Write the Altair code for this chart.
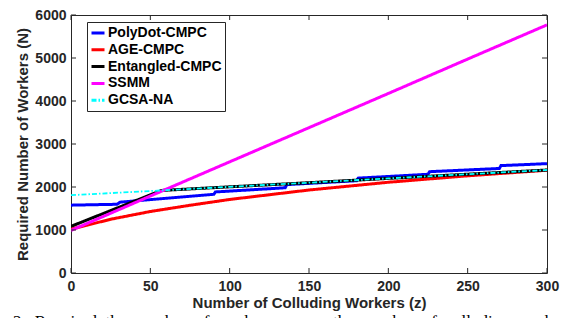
import altair as alt
import pandas as pd

# ---------------- data ----------------
series_names = ["PolyDot-CMPC", "AGE-CMPC", "Entangled-CMPC", "SSMM", "GCSA-NA"]
series_colors = ["#0000FF", "#FF0000", "#000000", "#FF00FF", "#00FFFF"]
series_dash = [[1, 0], [1, 0], [1, 0], [1, 0], [5, 2, 1.5, 2]]
series_width = [3, 3, 3, 3, 1.8]

polydot_z = [0, 29, 31, 90, 91, 135, 136, 180, 181, 225, 226, 270, 271, 300]
polydot_n = [1578, 1598, 1648, 1830, 1885, 1982, 2056, 2146, 2206, 2296, 2356, 2431, 2498, 2543]

age_z = [0, 10, 25, 50, 75, 100, 150, 200, 250, 300]
age_n = [1020, 1110, 1250, 1430, 1575, 1710, 1930, 2110, 2260, 2390]

entangled_z = [0, 57, 100, 150, 200, 250, 300]
entangled_n = [1085, 1920, 2004, 2100, 2200, 2298, 2395]

ssmm_z = [0, 50, 100, 150, 200, 250, 300]
ssmm_n = [990, 1790, 2585, 3380, 4175, 4975, 5770]

gcsa_z = [0, 57, 100, 150, 200, 250, 300]
gcsa_n = [1810, 1920, 2004, 2100, 2200, 2298, 2395]

x_ticks = [0, 50, 100, 150, 200, 250, 300]
y_ticks = [0, 1000, 2000, 3000, 4000, 5000, 6000]

caption_text = ("2:\u00a0\u00a0Required\u00a0 the\u00a0 number\u00a0 of\u00a0 workers\u00a0 versus\u00a0 "
                "the\u00a0 number\u00a0 of\u00a0 colluding\u00a0 workers")

# ---------------- table ----------------
rows = []
for name, zs, ns in zip(series_names,
                        [polydot_z, age_z, entangled_z, ssmm_z, gcsa_z],
                        [polydot_n, age_n, entangled_n, ssmm_n, gcsa_n]):
    for i, (z, n) in enumerate(zip(zs, ns)):
        rows.append({"series": name, "z": z, "n": n, "idx": i})
df = pd.DataFrame(rows)
xt_df = pd.DataFrame({"t": x_ticks})
yt_df = pd.DataFrame({"t": y_ticks})

W, H = 476, 258
TICK = 5
FONT = "Liberation Sans"
AX = "#262626"

xscale = alt.Scale(domain=[0, 300], nice=False, zero=False)
yscale = alt.Scale(domain=[0, 6000], nice=False, zero=False)

legend = alt.Legend(
    orient="none", legendX=16, legendY=7, title=None,
    labelFont=FONT, labelFontWeight="bold", labelFontSize=14, labelColor="black",
    symbolType="stroke", symbolSize=169, symbolStrokeWidth=3,
    strokeColor=AX, fillColor="white", padding=3, rowPadding=1.8,
    labelOffset=2, symbolOffset=0, labelLimit=300,
)
color = alt.Color("series:N", scale=alt.Scale(domain=series_names, range=series_colors),
                  legend=legend, title=None)
dash = alt.StrokeDash("series:N", scale=alt.Scale(domain=series_names, range=series_dash),
                      legend=legend, title=None)

main_x = alt.Axis(values=x_ticks, orient="bottom", ticks=False, tickSize=0, domain=False,
                  grid=False, labelFlush=False, labelFont=FONT, labelFontWeight="bold",
                  labelFontSize=14, labelColor=AX, labelPadding=6, format="d",
                  title="Number of Colluding Workers (z)", titleFont=FONT,
                  titleFontWeight="bold", titleFontSize=15, titleColor=AX, titlePadding=2)
main_y = alt.Axis(values=y_ticks, orient="left", ticks=False, tickSize=0, domain=False,
                  grid=False, labelFlush=False, labelFont=FONT, labelFontWeight="bold",
                  labelFontSize=14, labelColor=AX, labelPadding=5, format="d",
                  title="Required Number of Workers (N)", titleFont=FONT,
                  titleFontWeight="bold", titleFontSize=15, titleColor=AX, titlePadding=4)

layers = []
for k, name in enumerate(series_names):
    layers.append(
        alt.Chart(df).transform_filter(alt.datum.series == name)
        .mark_line(strokeWidth=series_width[k], clip=True)
        .encode(
            x=alt.X("z:Q", scale=xscale, axis=main_x if k == 0 else None),
            y=alt.Y("n:Q", scale=yscale, axis=main_y if k == 0 else None),
            color=color,
            strokeDash=dash,
            order="idx:Q",
        )
    )

# inward tick marks on all four sides (MATLAB style box)
tick_layers = [
    alt.Chart(xt_df).mark_rule(color=AX, strokeWidth=1).encode(
        x=alt.X("t:Q", scale=xscale, axis=None), y=alt.value(H), y2=alt.value(H - TICK)),
    alt.Chart(xt_df).mark_rule(color=AX, strokeWidth=1).encode(
        x=alt.X("t:Q", scale=xscale, axis=None), y=alt.value(0), y2=alt.value(TICK)),
    alt.Chart(yt_df).mark_rule(color=AX, strokeWidth=1).encode(
        y=alt.Y("t:Q", scale=yscale, axis=None), x=alt.value(0), x2=alt.value(TICK)),
    alt.Chart(yt_df).mark_rule(color=AX, strokeWidth=1).encode(
        y=alt.Y("t:Q", scale=yscale, axis=None), x=alt.value(W), x2=alt.value(W - TICK)),
]

caption = alt.Chart(pd.DataFrame({"caption": [caption_text]})).mark_text(
    align="left", baseline="alphabetic", font="Liberation Serif", fontSize=17,
    color="black", clip=False,
).encode(x=alt.value(-58), y=alt.value(312), text="caption:N")

chart = alt.layer(*layers, *tick_layers, caption).resolve_axis(
    x="independent", y="independent"
).properties(
    width=W, height=H,
    autosize=alt.AutoSizeParams(type="none"),
    padding={"left": 63, "top": 7, "right": 14, "bottom": 45},
).configure_view(stroke=AX, strokeWidth=1)

chart.save("out.html", embed_options={"renderer": "svg", "actions": False})
